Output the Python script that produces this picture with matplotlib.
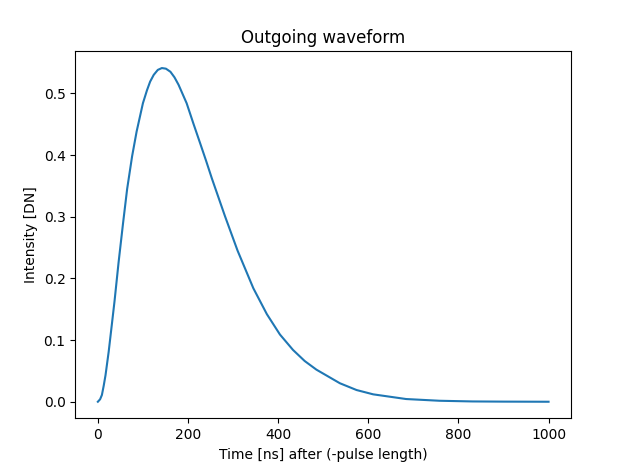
import matplotlib
matplotlib.use("Agg")
import matplotlib.pyplot as plt

# values
time_ns = [0, 5, 9, 13, 17, 24, 31, 37, 46, 56, 65, 76, 86, 100, 109, 116, 124,
           133, 142, 151, 161, 170, 179, 197, 212, 227, 240, 253, 282, 310, 345,
           375, 404, 433, 459, 485, 537, 574, 611, 684, 758, 831, 900, 1000]
intensity = [0.0, 0.004, 0.011, 0.026, 0.043, 0.081, 0.125, 0.163, 0.226, 0.290,
             0.345, 0.398, 0.438, 0.484, 0.505, 0.519, 0.530, 0.538, 0.541, 0.540,
             0.535, 0.526, 0.514, 0.484, 0.451, 0.419, 0.391, 0.362, 0.301, 0.245,
             0.184, 0.142, 0.109, 0.084, 0.066, 0.052, 0.030, 0.019, 0.012, 0.0044,
             0.0016, 0.0005, 0.0002, 0.0]

fig = plt.figure(figsize=(6.24, 4.67), dpi=100)
ax = fig.add_axes([0.1207, 0.104, 0.7945, 0.786])
ax.plot(time_ns, intensity)
ax.set_title("Outgoing waveform")
ax.set_xlabel("Time [ns] after (-pulse length)")
ax.set_ylabel("Intensity [DN]")
plt.savefig("out.png")
plt.close()
